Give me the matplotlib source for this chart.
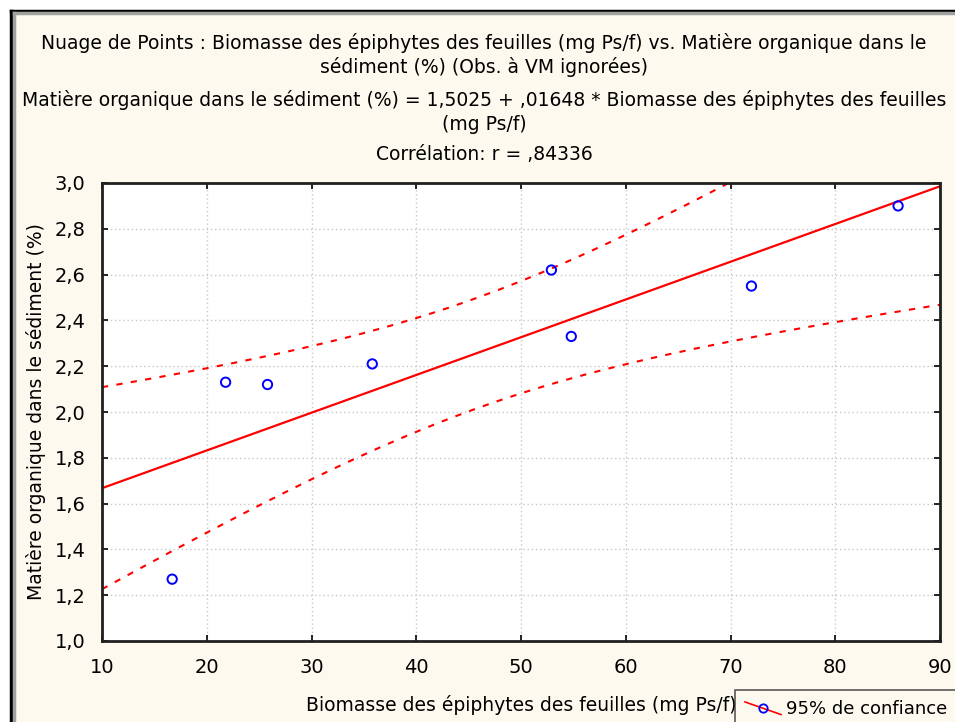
import matplotlib.pyplot as plt
import numpy as np
from matplotlib.legend_handler import HandlerBase
from matplotlib.lines import Line2D
from matplotlib.patches import Rectangle
from matplotlib.ticker import FuncFormatter

plt.rcParams['font.family'] = ['DejaVu Sans']

# observations: leaf epiphyte biomass vs sediment organic matter
biomasse = [16.7, 21.8, 25.8, 35.8, 52.9, 54.8, 72.0, 86.0]
matiere = [1.27, 2.13, 2.12, 2.21, 2.62, 2.33, 2.55, 2.90]

# regression reported by the software
b0, b1 = 1.5025, 0.01648
t_crit = 2.447  # t(0.975, df=6)

x = np.array(biomasse)
y = np.array(matiere)
n = len(x)
resid = y - (b0 + b1 * x)
s = np.sqrt(np.sum(resid ** 2) / (n - 2))
sxx = np.sum((x - x.mean()) ** 2)

xs = np.linspace(10, 90, 200)
fit = b0 + b1 * xs
half = t_crit * s * np.sqrt(1 / n + (xs - x.mean()) ** 2 / sxx)


class DiagHandler(HandlerBase):
    # slanted red line with the open blue marker in the middle
    def create_artists(self, legend, orig, xd, yd, w, h, fs, trans):
        ln = Line2D([xd, xd + w], [yd + h * 0.95, yd - h * 0.05], color='red',
                    lw=1.2, transform=trans)
        mk = Line2D([xd + w / 2], [yd + h * 0.45], ls='none', marker='o',
                    mfc='none', mec='blue', mew=1.3, ms=6, transform=trans)
        return [ln, mk]


bg = '#fef9ee'
fig = plt.figure(figsize=(9.55, 7.22), dpi=100, facecolor='white')

# window frame
fig.patches.append(Rectangle((10 / 955, -0.1), 1.1, 1 - 10 / 722 + 0.1,
                             transform=fig.transFigure, facecolor=bg,
                             edgecolor='none', zorder=-3))
fig.add_artist(Line2D([10.5 / 955, 10.5 / 955], [0, 1 - 10.5 / 722],
                      transform=fig.transFigure, color='black', lw=2.5))
fig.add_artist(Line2D([10.5 / 955, 1], [1 - 10.5 / 722, 1 - 10.5 / 722],
                      transform=fig.transFigure, color='black', lw=2.5))
fig.add_artist(Line2D([14 / 955, 14 / 955], [0, 1 - 13 / 722],
                      transform=fig.transFigure, color='#a0a0a0', lw=2.5))
fig.add_artist(Line2D([14 / 955, 1], [1 - 13 / 722, 1 - 13 / 722],
                      transform=fig.transFigure, color='#a0a0a0', lw=2.5))

ax = fig.add_axes([102 / 955, 1 - 641 / 722, 838 / 955, 458 / 722])
ax.set_facecolor('white')

ax.plot(xs, fit, color='red', lw=1.6)
ax.plot(xs, fit + half, color='red', lw=1.5, ls=(0, (3, 4)))
ax.plot(xs, fit - half, color='red', lw=1.5, ls=(0, (3, 4)))
ax.scatter(x, y, s=45, facecolors='none', edgecolors='blue', linewidths=1.4,
           zorder=5)

ax.set_xlim(10, 90)
ax.set_ylim(1.0, 3.0)
ax.set_xticks(np.arange(10, 91, 10))
ax.set_yticks(np.arange(1.0, 3.01, 0.2))
ax.yaxis.set_major_formatter(FuncFormatter(lambda v, p: f'{v:.1f}'.replace('.', ',')))
ax.grid(True, color='#c8c8c8', ls=(0, (1, 2)), lw=1)
ax.tick_params(direction='in', top=True, right=True, length=4, width=1.2,
               labelsize=14, colors='black')
ax.tick_params(axis='x', pad=12)
ax.tick_params(axis='y', pad=12)
for sp in ax.spines.values():
    sp.set_linewidth(2)
    sp.set_color('#202020')

ax.set_xlabel('Biomasse des épiphytes des feuilles (mg Ps/f)', fontsize=13.5,
              labelpad=13)
ax.set_ylabel('Matière organique dans le sédiment (%)', fontsize=13.5,
              labelpad=6)

txt = dict(ha='center', va='center', fontsize=13.5)
fig.text(0.507, 1 - 43 / 722,
         'Nuage de Points : Biomasse des épiphytes des feuilles (mg Ps/f) vs. Matière organique dans le',
         **txt)
fig.text(0.507, 1 - 67 / 722, 'sédiment (%) (Obs. à VM ignorées)', **txt)
fig.text(0.507, 1 - 100 / 722,
         'Matière organique dans le sédiment (%) = 1,5025 + ,01648 * Biomasse des épiphytes des feuilles',
         **txt)
fig.text(0.507, 1 - 124 / 722, '(mg Ps/f)', **txt)
fig.text(0.507, 1 - 155 / 722, 'Corrélation: r = ,84336', **txt)

handle = Line2D([], [], color='red')
leg = fig.legend([handle], ['95% de confiance'], loc='upper left',
                 bbox_to_anchor=(735 / 955, 1 - 690 / 722), fontsize=13,
                 frameon=True, fancybox=False, handlelength=2.0,
                 borderpad=0.55, borderaxespad=0, handletextpad=0.3,
                 handler_map={Line2D: DiagHandler()})
leg.get_frame().set_edgecolor('#303030')
leg.get_frame().set_linewidth(1.2)
leg.get_frame().set_facecolor(bg)

fig.savefig('out.png', dpi=100, facecolor='white')
